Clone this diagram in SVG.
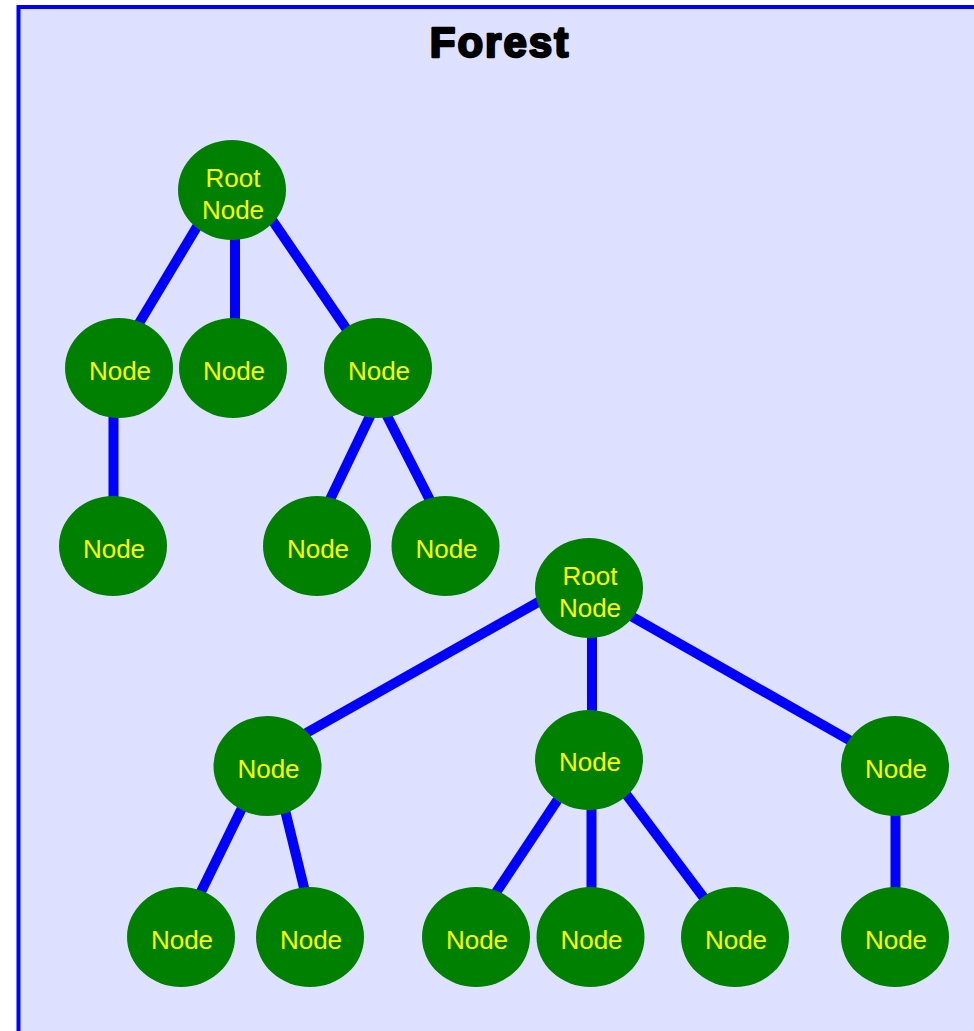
<svg xmlns="http://www.w3.org/2000/svg" width="974" height="1031" viewBox="0 0 974 1031">
  <defs>
    <!-- light lavender crosshatch used as the canvas fill -->
    <pattern id="hatch" width="4" height="4" patternUnits="userSpaceOnUse">
      <rect width="4" height="4" fill="#d3e5ff"/>
      <path d="M0,0 L4,4 M4,0 L0,4" stroke="#ebdcff" stroke-width="0.9"/>
    </pattern>
    <style>
      .frame { fill: url(#hatch); stroke: #0000ff; stroke-width: 4; }
      .title { font-family: "Liberation Sans", Arial, sans-serif; font-weight: bold; font-size: 42px; letter-spacing: 2px; fill: #000; stroke: #000; stroke-width: 2.4; stroke-linejoin: round; text-anchor: middle; }
      .edge { stroke: #0000ff; stroke-width: 10; fill: none; }
      .node ellipse { fill: #008000; }
      .node text { font-family: "Liberation Sans", Arial, sans-serif; font-size: 26px; fill: #ffff00; text-anchor: middle; }
    </style>
  </defs>

  <!-- cluster frame -->
  <rect class="frame" x="18.5" y="7" width="1000" height="1100"/>
  <text class="title" x="500" y="57">Forest</text>

  <!-- connectors -->
  <g id="edges">
    <line class="edge" x1="207" y1="210" x2="132" y2="335"/>
    <line class="edge" x1="235" y1="230" x2="235" y2="330"/>
    <line class="edge" x1="266" y1="211" x2="354" y2="340"/>
    <line class="edge" x1="113.5" y1="410" x2="113.5" y2="505"/>
    <line class="edge" x1="373" y1="410" x2="325" y2="510"/>
    <line class="edge" x1="384" y1="410" x2="435" y2="510"/>
    <line class="edge" x1="555" y1="592.6" x2="285" y2="745"/>
    <line class="edge" x1="592" y1="630" x2="592" y2="720"/>
    <line class="edge" x1="615" y1="607" x2="865" y2="749"/>
    <line class="edge" x1="242" y1="808" x2="197" y2="900"/>
    <line class="edge" x1="285" y1="810" x2="307" y2="900"/>
    <line class="edge" x1="557.5" y1="800" x2="491" y2="900"/>
    <line class="edge" x1="591.5" y1="800" x2="591.5" y2="895"/>
    <line class="edge" x1="620" y1="786" x2="705.5" y2="900"/>
    <line class="edge" x1="895.5" y1="810" x2="895.5" y2="895"/>
  </g>

  <!-- first tree -->
  <g id="root1" class="node"><ellipse cx="232" cy="190" rx="54" ry="50"/><text x="233" y="187">Root</text><text x="233" y="219">Node</text></g>
  <g id="t1_a" class="node"><ellipse cx="119" cy="368" rx="54" ry="50"/><text x="120" y="380">Node</text></g>
  <g id="t1_b" class="node"><ellipse cx="233" cy="368" rx="54" ry="50"/><text x="234" y="380">Node</text></g>
  <g id="t1_c" class="node"><ellipse cx="378" cy="368" rx="54" ry="50"/><text x="379" y="380">Node</text></g>
  <g id="t1_a1" class="node"><ellipse cx="113" cy="546" rx="54" ry="50"/><text x="114" y="558">Node</text></g>
  <g id="t1_c1" class="node"><ellipse cx="317" cy="546" rx="54" ry="50"/><text x="318" y="558">Node</text></g>
  <g id="t1_c2" class="node"><ellipse cx="445.5" cy="546" rx="54" ry="50"/><text x="446.5" y="558">Node</text></g>

  <!-- second tree -->
  <g id="root2" class="node"><ellipse cx="589" cy="588" rx="54" ry="50"/><text x="590" y="585">Root</text><text x="590" y="617">Node</text></g>
  <g id="t2_d" class="node"><ellipse cx="267.5" cy="766" rx="54" ry="50"/><text x="268.5" y="778">Node</text></g>
  <g id="t2_e" class="node"><ellipse cx="589" cy="760" rx="54" ry="50"/><text x="590" y="771">Node</text></g>
  <g id="t2_f" class="node"><ellipse cx="895" cy="766" rx="54" ry="50"/><text x="896" y="778">Node</text></g>
  <g id="t2_d1" class="node"><ellipse cx="181" cy="937" rx="54" ry="50"/><text x="182" y="949">Node</text></g>
  <g id="t2_d2" class="node"><ellipse cx="310" cy="937" rx="54" ry="50"/><text x="311" y="949">Node</text></g>
  <g id="t2_e1" class="node"><ellipse cx="476" cy="937" rx="54" ry="50"/><text x="477" y="949">Node</text></g>
  <g id="t2_e2" class="node"><ellipse cx="590.5" cy="937" rx="54" ry="50"/><text x="591.5" y="949">Node</text></g>
  <g id="t2_e3" class="node"><ellipse cx="735" cy="937" rx="54" ry="50"/><text x="736" y="949">Node</text></g>
  <g id="t2_f1" class="node"><ellipse cx="895" cy="937" rx="54" ry="50"/><text x="896" y="949">Node</text></g>
</svg>
